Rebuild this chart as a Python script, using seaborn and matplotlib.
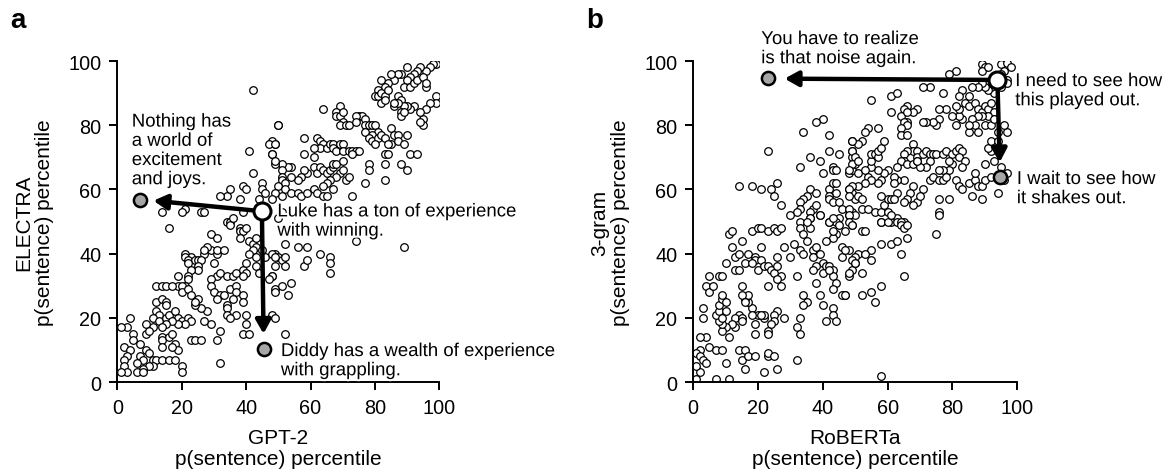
import numpy as np
import pandas as pd
import matplotlib
matplotlib.use('Agg')
import matplotlib.pyplot as plt
import matplotlib.patheffects as pe
import seaborn as sns

sns.set_style('ticks')
plt.rcParams['font.family'] = ['Liberation Sans', 'DejaVu Sans']
plt.rcParams['axes.linewidth'] = 1.4
plt.rcParams['xtick.major.width'] = 1.4
plt.rcParams['ytick.major.width'] = 1.4
for k in ['text.color', 'axes.labelcolor', 'xtick.color', 'ytick.color', 'axes.edgecolor']:
    plt.rcParams[k] = 'black'

# panel a: (GPT-2 percentile, ELECTRA percentile)
gpt2_electra = [
    (99, 99), (98, 99), (97, 98), (96, 97), (94, 98), (93, 97), (92, 96), (91, 95), (90, 98), (90, 94),
    (88, 96), (87, 96), (86, 94), (85, 96), (84, 93), (83, 92), (82, 94), (81, 91), (80, 89), (81, 89),
    (82, 90), (83, 89), (82, 87), (83, 88), (84, 91), (87, 89), (88, 88), (89, 92), (91, 92), (92, 93),
    (93, 94), (95, 95), (96, 92), (96, 93), (99, 89), (99, 87), (97, 87), (96, 85), (95, 82), (95, 80),
    (94, 81), (94, 84), (92, 86), (91, 85), (90, 86), (89, 86), (88, 84), (88, 83), (89, 84), (86, 86),
    (87, 87), (86, 87),
    (64, 85), (69, 86), (68, 84), (68, 83), (69, 83), (70, 84), (70, 81), (69, 80), (71, 80), (72, 80),
    (75, 83), (76, 83), (77, 82), (74, 83), (74, 81), (77, 80), (77, 78), (78, 80), (79, 80), (80, 80),
    (81, 78), (79, 77), (78, 76), (79, 75), (81, 76), (80, 74), (82, 77), (83, 76), (85, 79), (86, 77),
    (87, 77), (85, 74), (84, 74), (83, 71), (84, 71), (87, 75), (89, 74), (90, 77), (91, 71), (93, 71),
    (88, 68), (90, 66), (83, 68), (83, 63), (78, 68), (78, 66), (77, 62),
    (50, 80), (58, 76), (62, 76), (63, 75), (64, 74), (63, 73), (65, 73), (66, 74), (67, 74), (67, 73),
    (68, 72), (69, 74), (70, 74), (70, 72), (72, 72), (73, 72), (74, 72), (75, 72), (73, 71), (61, 73),
    (58, 71), (61, 70), (61, 67), (59, 65), (62, 65), (63, 67), (64, 66), (65, 65), (66, 66), (67, 67),
    (67, 68), (68, 68), (69, 65), (70, 66), (70, 69), (71, 63), (72, 64), (68, 64), (66, 63), (65, 62),
    (64, 61), (58, 66), (57, 64), (56, 63), (54, 64), (54, 67), (53, 67), (51, 68), (51, 66), (51, 64),
    (51, 63), (52, 62), (49, 68), (48, 71), (49, 74), (48, 75), (50, 61), (52, 60), (54, 59), (56, 59),
    (57, 58), (59, 59), (61, 60), (62, 59), (64, 58), (65, 58), (67, 60), (73, 58), (51, 58), (49, 59),
    (52, 43), (56, 42), (59, 42), (63, 40), (66, 39), (66, 37), (66, 34), (58, 36), (59, 38), (49, 40),
    (50, 39), (51, 38), (52, 39), (52, 36), (48, 33), (49, 29), (51, 30), (54, 31), (53, 27), (48, 21),
    (49, 20), (52, 15), (89, 42), (74, 44),
    (16, 48), (34, 50), (35, 50), (35, 49), (29, 46), (31, 45), (38, 48), (38, 47), (39, 47), (40, 48),
    (38, 45), (41, 44), (42, 43), (43, 45), (43, 42), (42, 41), (41, 40), (43, 39), (43, 36), (44, 34),
    (45, 41), (46, 39), (48, 40), (49, 39), (49, 36), (48, 33), (49, 28), (47, 32),
    (21, 40), (23, 39), (21, 39), (22, 38), (24, 38), (25, 38), (27, 40), (26, 38), (25, 36), (25, 35),
    (22, 37), (23, 35), (22, 33), (22, 32), (21, 30), (19, 33), (19, 30), (20, 30), (20, 28), (22, 29),
    (29, 41), (31, 40), (31, 41), (33, 41), (30, 37), (31, 33), (32, 34), (34, 33), (29, 32), (29, 30),
    (30, 28), (32, 27), (31, 26), (33, 27), (35, 29), (36, 33), (37, 34), (39, 35), (40, 37), (40, 34),
    (39, 33), (37, 30), (37, 28), (36, 26), (39, 27), (39, 25), (40, 21), (40, 18), (39, 15), (41, 15),
    (37, 21), (34, 24), (34, 23), (34, 21), (35, 20), (32, 16), (31, 13), (29, 18), (27, 19), (28, 22),
    (26, 23), (25, 26), (24, 24), (23, 27), (24, 25),
    (12, 30), (14, 30), (15, 30), (17, 30), (12, 25), (14, 26), (15, 25), (15, 24), (12, 22), (13, 21),
    (11, 20), (13, 19), (15, 20), (16, 21), (18, 22), (19, 20), (20, 19), (22, 20), (23, 19), (21, 18),
    (19, 18), (17, 19), (15, 18), (14, 17), (11, 17), (9, 18), (9, 15), (10, 16), (4, 20), (3, 17),
    (1, 17), (5, 15), (5, 13), (7, 12), (2, 11), (4, 10), (9, 10), (10, 9), (7, 8), (8, 7),
    (11, 7), (12, 7), (14, 7), (16, 7), (18, 7), (11, 5), (10, 5), (8, 4), (6, 6), (3, 8),
    (2, 7), (2, 5), (3, 3), (1, 3), (6, 3), (8, 3), (20, 5), (20, 3), (23, 13), (24, 13),
    (26, 13), (18, 12), (19, 10), (17, 11), (14, 14), (14, 13), (16, 14), (17, 15), (14, 11), (32, 6),
    (28, 42), (27, 41),
    (42, 91), (50, 80), (47, 74), (49, 74), (41, 72), (48, 71), (49, 69), (42, 65), (45, 62), (39, 61),
    (40, 60), (45, 60), (46, 59), (48, 57), (34, 58), (32, 58), (35, 60), (38, 57), (44, 57), (39, 53),
    (26, 53), (21, 54), (36, 51), (50, 51), (51, 53), (14, 53), (20, 53), (27, 53),
]

# panel b: (RoBERTa percentile, 3-gram percentile)
roberta_trigram = [
    (40, 82), (38, 81), (34, 78), (42, 77), (23, 72), (42, 72), (45, 71), (49, 75), (49, 72), (49, 70),
    (36, 70), (39, 69), (33, 67), (40, 65), (43, 67), (43, 66), (44, 66), (48, 65), (49, 66), (50, 68),
    (14, 61), (18, 61), (21, 60), (24, 60), (25, 58), (26, 62), (27, 55), (36, 60), (38, 59), (35, 58),
    (34, 57), (33, 56), (33, 54), (32, 53), (37, 54), (38, 55), (36, 53), (39, 52), (36, 51), (42, 60),
    (43, 62), (44, 62), (44, 59), (42, 58), (42, 57), (43, 56), (45, 56), (46, 54), (48, 60), (49, 59),
    (50, 57), (49, 53), (48, 52), (45, 51), (44, 50), (42, 50), (50, 52),
    (89, 99), (90, 98), (89, 97), (91, 98), (95, 99), (97, 99.5), (98, 98), (96, 97), (95, 96), (97, 94),
    (97, 93), (95, 92), (93, 90), (92, 92), (91, 91), (90, 92), (89, 93), (88, 92), (86, 92), (85, 89),
    (83, 91), (81, 97), (79, 96), (73, 92), (71, 92), (77, 90), (82, 89), (84, 87), (85, 86), (87, 87),
    (88, 85), (89, 84), (90, 86), (91, 85), (92, 87), (93, 84), (91, 83), (90, 80), (92, 80), (93, 82),
    (89, 83), (88, 83), (86, 82), (87, 80), (88, 78), (85, 78), (85, 80), (83, 82), (82, 83), (81, 80),
    (80, 83), (82, 85), (81, 86), (78, 85), (76, 85), (76, 82), (75, 80), (74, 81), (72, 81), (71, 81),
    (69, 85), (68, 84), (66, 86), (65, 85), (64, 83), (66, 84), (66, 81), (65, 81), (66, 80), (64, 79),
    (64, 77), (66, 77), (68, 74), (68, 72), (69, 72), (69, 70), (66, 72), (65, 71), (65, 69), (64, 69),
    (63, 67), (66, 68), (68, 68), (69, 69), (71, 71), (72, 72), (73, 71), (74, 71), (75, 71), (77, 71),
    (78, 72), (80, 71), (81, 72), (82, 73), (83, 72), (82, 70), (84, 69), (83, 67), (80, 68), (79, 69),
    (79, 66), (77, 66), (76, 66), (73, 69), (72, 67), (70, 67), (69, 69), (73, 63), (74, 64), (76, 63),
    (77, 63), (78, 64), (81, 63), (82, 61), (83, 60), (85, 62), (87, 63), (88, 61), (89, 61), (90, 63),
    (92, 64), (96, 63), (97, 65), (95, 67), (93, 69), (92, 72), (91, 73), (92, 75), (94, 75), (97, 78),
    (96, 80), (94, 78), (90, 68), (87, 65), (86, 58), (89, 57), (94, 59), (79, 57), (76, 57), (76, 53),
    (71, 60), (68, 61), (65, 63), (63, 63), (62, 64), (60, 66), (59, 65), (58, 63), (57, 62), (57, 66),
    (55, 67), (55, 69), (55, 71), (56, 71), (57, 70), (57, 72), (58, 73), (59, 75), (57, 79), (54, 79),
    (53, 78), (52, 75), (51, 74), (49, 75), (49, 72), (50, 70), (49, 68), (48, 66), (51, 69), (51, 65),
    (53, 66), (54, 64), (55, 63), (53, 62), (51, 61), (49, 61), (48, 60), (48, 58), (51, 58), (52, 57),
    (52, 54), (54, 54), (48, 54), (56, 53), (58, 53), (59, 55), (60, 57), (61, 57), (60, 53), (58, 50),
    (61, 50), (63, 51), (65, 50), (62, 62), (63, 59), (67, 59), (66, 57), (65, 56), (69, 56), (70, 58),
    (62, 57), (58, 58), (55, 88), (61, 89), (63, 90), (61, 84), (68, 55),
    (48, 52), (49, 49), (52, 47), (53, 47), (58, 50), (60, 50), (61, 52), (63, 50), (64, 50), (64, 49),
    (65, 48), (66, 49), (66, 45), (58, 43), (61, 43), (63, 44), (55, 41), (64, 40), (55, 38), (75, 46),
    (76, 52), (48, 41), (51, 40), (50, 39), (53, 40), (50, 37), (49, 35), (48, 33), (52, 34), (65, 33),
    (58, 30), (55, 28), (47, 27), (52, 27), (56, 25), (58, 2),
    (11, 46), (12, 47), (15, 44), (12, 42), (18, 47), (20, 48), (21, 48), (23, 47), (25, 48), (26, 47),
    (27, 48), (21, 42), (28, 42), (31, 43), (33, 50), (30, 52), (33, 48), (36, 48), (34, 46), (35, 44),
    (33, 41), (34, 40), (30, 39), (37, 41), (38, 42), (37, 39), (39, 40), (40, 37), (41, 36), (38, 36),
    (37, 35), (38, 31), (40, 34), (42, 36), (43, 35), (43, 33), (44, 31), (43, 29), (42, 35), (46, 42),
    (46, 39), (47, 41), (49, 38), (48, 34), (50, 37), (44, 46), (43, 45), (43, 47), (41, 44), (42, 50),
    (43, 51), (45, 49), (48, 50), (49, 49), (47, 47), (39, 52), (36, 51), (35, 50),
    (13, 39), (14, 40), (17, 40), (16, 37), (19, 39), (19, 38), (21, 38), (18, 37), (20, 35), (22, 36),
    (23, 36), (24, 35), (25, 34), (26, 39), (26, 36), (27, 33), (26, 32), (27, 30), (23, 30), (32, 33),
    (34, 27), (35, 25), (34, 24), (33, 20), (32, 17), (33, 15), (28, 20), (26, 22), (25, 21), (25, 19),
    (24, 18), (23, 16), (23, 15), (22, 20), (20, 21), (22, 21), (21, 21), (18, 23), (18, 21), (19, 18),
    (19, 15), (17, 25), (16, 26), (17, 27), (15, 27), (15, 30), (16, 25), (14, 21), (13, 20), (15, 20),
    (15, 19), (13, 17), (12, 18), (10, 17), (9, 16), (11, 14), (9, 18), (8, 19), (7, 21), (8, 22),
    (8, 24), (9, 26), (10, 25), (9, 27), (10, 22), (9, 20), (3, 23), (3, 20), (4, 30), (5, 28),
    (6, 30), (5, 33), (8, 33), (9, 33), (10, 37), (13, 35), (14, 35), (40, 24), (43, 23), (43, 21),
    (44, 19), (41, 19), (46, 27), (47, 27), (39, 27), (4, 14), (2, 14), (2, 10), (1, 9), (2, 8),
    (3, 7), (4, 6), (5, 11), (7, 10), (9, 10), (10, 6), (14, 10), (16, 10), (15, 7), (17, 8),
    (19, 8), (16, 4), (23, 8), (23, 9), (25, 8), (32, 7), (26, 4), (22, 3), (7, 1), (11, 1),
    (2, 3), (1, 5), (1, 1),
]

# highlighted example sentences: original (white) and swapped (grey) points
a_orig = (44.9, 53.2)
a_grey = [(6.9, 56.7), (45.6, 10.3)]
a_tips = [(11.2, 56.5), (45.4, 15.0)]
b_orig = (93.9, 94.1)
b_grey = [(23.2, 94.6), (94.8, 63.8)]
b_tips = [(28.2, 94.5), (94.6, 68.4)]

a_texts = [
    ((4.5, 72.0), 'Nothing has\na world of\nexcitement\nand joys.'),
    ((49.7, 50.0), 'Luke has a ton of experience\nwith winning.'),
    ((50.8, 6.5), 'Diddy has a wealth of experience\nwith grappling.'),
]
b_texts = [
    ((21.0, 103.7), 'You have to realize\nis that noise again.'),
    ((99.4, 90.6), 'I need to see how\nthis played out.'),
    ((99.9, 60.1), 'I wait to see how\nit shakes out.'),
]

df_a = pd.DataFrame(gpt2_electra, columns=['x', 'y'])
df_b = pd.DataFrame(roberta_trigram, columns=['x', 'y'])

fig = plt.figure(figsize=(11.67, 4.77), dpi=100)
ax_a = fig.add_axes([0.1005, 0.197, 0.276, 0.673])
ax_b = fig.add_axes([0.594, 0.197, 0.2776, 0.673])

halo = [pe.withStroke(linewidth=3, foreground='white')]


def draw_panel(ax, df, orig, greys, tips, texts, xlabel, ylabel):
    sns.scatterplot(data=df, x='x', y='y', ax=ax, color='white', edgecolor='black',
                    s=30, linewidth=0.9, marker='o', zorder=2)
    for tip in tips:
        ax.annotate('', xy=tip, xytext=orig,
                    arrowprops=dict(arrowstyle='-|>,head_length=0.45,head_width=0.25',
                                    lw=3.2, color='black', shrinkA=7, shrinkB=0,
                                    mutation_scale=18), zorder=3)
    gx, gy = zip(*greys)
    ax.scatter(gx, gy, s=90, facecolor='#a6a6a6', edgecolor='black', linewidth=1.8,
               zorder=4, clip_on=False)
    ax.scatter([orig[0]], [orig[1]], s=150, facecolor='white', edgecolor='black',
               linewidth=2.2, zorder=5, clip_on=False)
    for (tx, ty), t in texts:
        ax.text(tx, ty, t, fontsize=13.4, ha='left', va='center', linespacing=1.17,
                path_effects=halo, zorder=6)
    ax.set_xlim(0, 100)
    ax.set_ylim(0, 100)
    ax.set_xticks([0, 20, 40, 60, 80, 100])
    ax.set_yticks([0, 20, 40, 60, 80, 100])
    ax.tick_params(labelsize=14.3, length=5.5, pad=6)
    ax.set_xlabel(xlabel, fontsize=15, linespacing=1.15, labelpad=8)
    ax.set_ylabel(ylabel, fontsize=15, linespacing=1.15, labelpad=10)
    sns.despine(ax=ax)


draw_panel(ax_a, df_a, a_orig, a_grey, a_tips, a_texts,
           'GPT-2\np(sentence) percentile', 'ELECTRA\np(sentence) percentile')
draw_panel(ax_b, df_b, b_orig, b_grey, b_tips, b_texts,
           'RoBERTa\np(sentence) percentile', '3-gram\np(sentence) percentile')

fig.text(0.009, 0.955, 'a', fontsize=20, fontweight='bold', va='center')
fig.text(0.502, 0.955, 'b', fontsize=20, fontweight='bold', va='center')

fig.savefig('out.png', dpi=100)
